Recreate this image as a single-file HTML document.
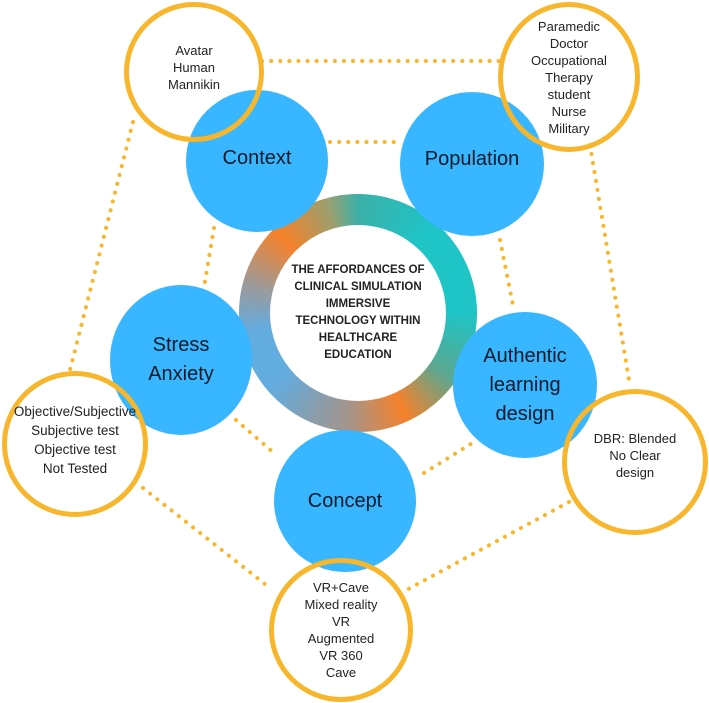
<!DOCTYPE html>
<html><head><meta charset="utf-8"><style>
html,body{margin:0;padding:0;background:#fff;}
body{width:709px;height:703px;position:relative;overflow:hidden;font-family:"Liberation Sans",sans-serif;}
.b{position:absolute;border-radius:50%;background:#38b6ff;display:flex;align-items:center;justify-content:center;text-align:center;color:#0d1a2a;font-size:20px;line-height:29px;}
.o{position:absolute;border-radius:50%;border:5px solid #f8b62c;background:transparent;display:flex;align-items:center;justify-content:center;text-align:center;color:#222;font-size:13px;line-height:17px;box-sizing:border-box;}
.ring{position:absolute;left:239px;top:194px;width:238px;height:238px;border-radius:50%;
background:conic-gradient(from 0deg,#3cb0a8 0deg,#1ec4c6 40deg,#1ec4c6 90deg,#5aa890 125deg,#f5822a 155deg,#a4948a 185deg,#62ace0 230deg,#62ace0 260deg,#9d9a98 285deg,#f5822a 315deg,#9aa070 345deg,#3cb0a8 360deg);}
.inner{position:absolute;left:270px;top:225px;width:176px;height:176px;border-radius:50%;background:#fff;display:flex;align-items:center;justify-content:center;text-align:center;font-weight:bold;font-size:11.5px;line-height:17px;color:#222;}
</style></head><body>
<svg width="709" height="703" style="position:absolute;left:0;top:0">
<g stroke="#f8b62c" stroke-width="4" stroke-dasharray="0.1 9" stroke-linecap="round" fill="none">
<line x1="262" y1="61" x2="500" y2="61"/>
<line x1="330" y1="142" x2="400" y2="142"/>
<line x1="214" y1="228" x2="204" y2="287"/>
<line x1="500" y1="240" x2="513" y2="305"/>
<line x1="236" y1="420" x2="274" y2="453"/>
<line x1="424" y1="473" x2="474" y2="442"/>
<line x1="143" y1="488" x2="270" y2="588"/>
<line x1="569" y1="502" x2="401" y2="593"/>
<line x1="133" y1="122" x2="70" y2="370"/>
<line x1="590" y1="145" x2="630" y2="386"/>
</g></svg>
<div class="ring"></div>
<div class="inner">THE AFFORDANCES OF<br>CLINICAL SIMULATION<br>IMMERSIVE<br>TECHNOLOGY WITHIN<br>HEALTHCARE<br>EDUCATION</div>
<div class="b" style="left:186px;top:90px;width:142px;height:142px;padding-bottom:6px;box-sizing:border-box">Context</div>
<div class="b" style="left:400px;top:92px;width:144px;height:144px;padding-bottom:10px;box-sizing:border-box">Population</div>
<div class="b" style="left:110px;top:285px;width:142px;height:150px">Stress<br>Anxiety</div>
<div class="b" style="left:453px;top:312px;width:144px;height:146px">Authentic<br>learning<br>design</div>
<div class="b" style="left:274px;top:430px;width:142px;height:142px">Concept</div>
<div class="o" style="left:124px;top:2px;width:140px;height:140px;padding-bottom:10px">Avatar<br>Human<br>Mannikin</div>
<div class="o" style="left:498px;top:2px;width:142px;height:150px">Paramedic<br>Doctor<br>Occupational<br>Therapy<br>student<br>Nurse<br>Military</div>
<div class="o" style="left:2px;top:371px;width:146px;height:146px;font-size:13.5px;line-height:19px;padding-bottom:8px">Objective/Subjective<br>Subjective test<br>Objective test<br>Not Tested</div>
<div class="o" style="left:562px;top:389px;width:146px;height:146px;padding-bottom:14px">DBR: Blended<br>No Clear<br>design</div>
<div class="o" style="left:269px;top:558px;width:144px;height:144px">VR+Cave<br>Mixed reality<br>VR<br>Augmented<br>VR 360<br>Cave</div>
</body></html>
